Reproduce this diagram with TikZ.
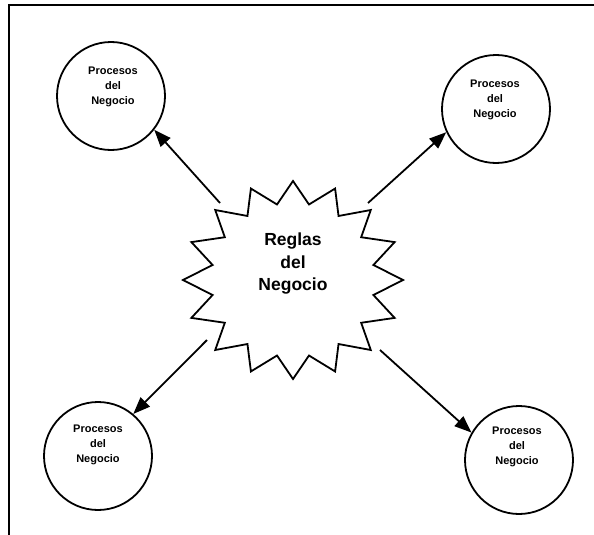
\documentclass[tikz,border=0pt]{standalone}
\usepackage{fontspec}
\setmainfont{Liberation Sans}
\usetikzlibrary{arrows.meta}
\begin{document}
\begin{tikzpicture}[x=1pt,y=-1pt, line width=1.8pt,
  proc/.style={draw, circle, minimum size=108pt, inner sep=0pt},
  ptext/.style={align=center, inner sep=0pt, font=\bfseries\fontsize{11}{15}\selectfont},
  rtext/.style={align=center, inner sep=0pt, font=\bfseries\fontsize{17.5}{22.5}\selectfont},
  conn/.style={-{Triangle[length=17pt,width=13pt]}},
  frame/.style={line width=2.2pt}]
\useasboundingbox (0,0) rectangle (594,535);
% frame (left and top edges)
\draw[frame] (9,535) -- (9,5) -- (594,5);
% starburst
\draw[line join=miter] plot[samples=33, domain=0:32, variable=\k]
  ({293+ifthenelse(mod(\k,2)==0,110,82)*cos(90+11.25*\k)},
   {280-ifthenelse(mod(\k,2)==0,99,77)*sin(90+11.25*\k)}) -- cycle;
\node[rtext] (reglas) at (293,264) {Reglas\\del\\Negocio};
% circles
\node[proc] (c1) at (111,96) {};
\node[proc] (c2) at (496,109) {};
\node[proc] (c3) at (98,456) {};
\node[proc] (c4) at (519,460) {};
\node[ptext] (t1) at (113,87) {Procesos\\del\\Negocio};
\node[ptext] (t2) at (495,100) {Procesos\\del\\Negocio};
\node[ptext] (t3) at (98,445) {Procesos\\del\\Negocio};
\node[ptext] (t4) at (517,447) {Procesos\\del\\Negocio};
% arrow start points at the starburst
\coordinate (s1) at (220,203);
\coordinate (s2) at (368,203);
\coordinate (s3) at (207,340);
\coordinate (s4) at (380,350);
\draw[conn] (s1) -- (c1.-38);
\draw[conn] (s2) -- (c2.205);
\draw[conn] (s3) -- (c3.50);
\draw[conn] (s4) -- (c4.150);
\end{tikzpicture}
\end{document}
